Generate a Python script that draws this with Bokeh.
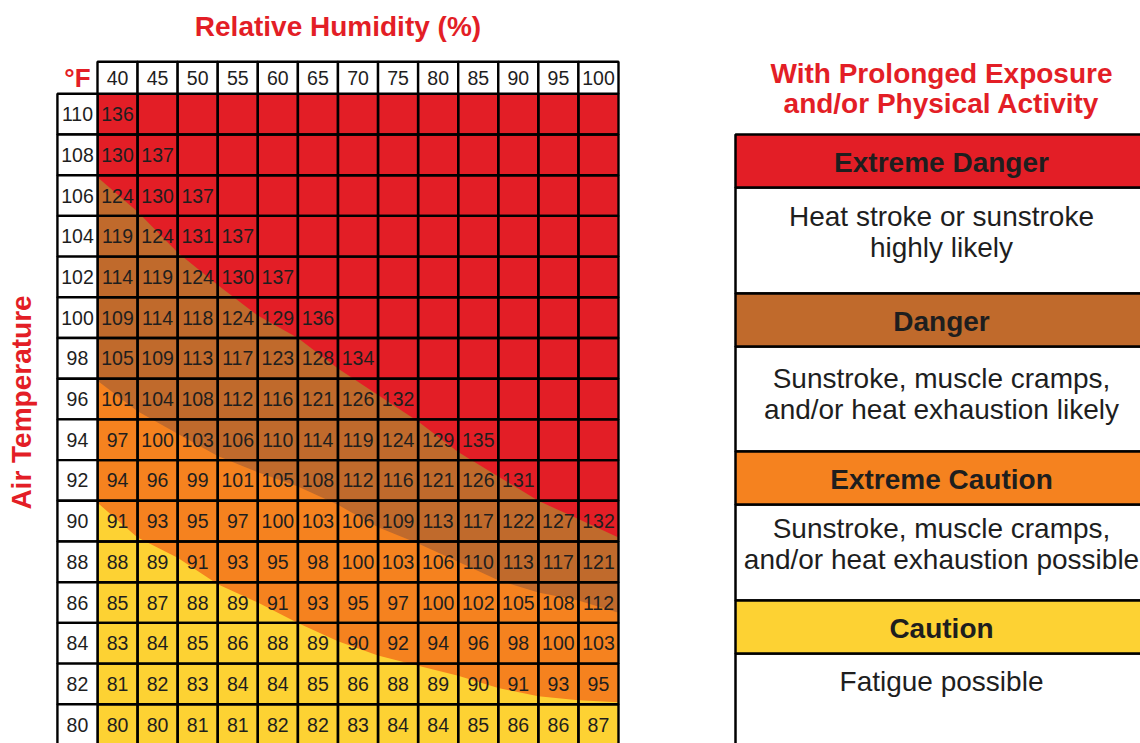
import math
from bokeh.plotting import figure
from bokeh.layouts import row
from bokeh.models import Range1d
from bokeh.core.properties import value
from bokeh.embed import file_html
from bokeh.resources import INLINE

# ---------------- data ----------------
humidity = [40, 45, 50, 55, 60, 65, 70, 75, 80, 85, 90, 95, 100]
air_temp = [110, 108, 106, 104, 102, 100, 98, 96, 94, 92, 90, 88, 86, 84, 82, 80]

hi_110 = [136]
hi_108 = [130, 137]
hi_106 = [124, 130, 137]
hi_104 = [119, 124, 131, 137]
hi_102 = [114, 119, 124, 130, 137]
hi_100 = [109, 114, 118, 124, 129, 136]
hi_98 = [105, 109, 113, 117, 123, 128, 134]
hi_96 = [101, 104, 108, 112, 116, 121, 126, 132]
hi_94 = [97, 100, 103, 106, 110, 114, 119, 124, 129, 135]
hi_92 = [94, 96, 99, 101, 105, 108, 112, 116, 121, 126, 131]
hi_90 = [91, 93, 95, 97, 100, 103, 106, 109, 113, 117, 122, 127, 132]
hi_88 = [88, 89, 91, 93, 95, 98, 100, 103, 106, 110, 113, 117, 121]
hi_86 = [85, 87, 88, 89, 91, 93, 95, 97, 100, 102, 105, 108, 112]
hi_84 = [83, 84, 85, 86, 88, 89, 90, 92, 94, 96, 98, 100, 103]
hi_82 = [81, 82, 83, 84, 84, 85, 86, 88, 89, 90, 91, 93, 95]
hi_80 = [80, 80, 81, 81, 82, 82, 83, 84, 84, 85, 86, 86, 87]
heat_index_rows = [hi_110, hi_108, hi_106, hi_104, hi_102, hi_100, hi_98, hi_96,
                   hi_94, hi_92, hi_90, hi_88, hi_86, hi_84, hi_82, hi_80]

# risk-band boundaries (air temperature at each humidity cell edge)
boundary_humidity = [37.5, 42.5, 47.5, 52.5, 57.5, 62.5, 67.5, 72.5, 77.5, 82.5, 87.5, 92.5, 97.5, 102.5]
extreme_danger_edge = [106.9, 105.2, 103.2, 101.6, 100.1, 99.0, 97.5, 96.2, 94.9, 93.4, 92.2, 91.0, 90.1, 89.2]
danger_edge = [96.9, 95.4, 94.3, 93.2, 92.4, 91.7, 90.8, 89.7, 88.9, 88.0, 87.1, 86.5, 86.1, 85.5]
caution_edge = [90.9, 89.2, 88.2, 86.9, 86.0, 85.0, 84.1, 83.4, 82.9, 82.4, 81.8, 81.4, 81.2, 81.1]

risk_levels = ["Extreme Danger", "Danger", "Extreme Caution", "Caution"]
risk_text = [["Heat stroke or sunstroke", "highly likely"],
             ["Sunstroke, muscle cramps,", "and/or heat exhaustion likely"],
             ["Sunstroke, muscle cramps,", "and/or heat exhaustion possible"],
             ["Fatigue possible"]]

# ---------------- style ----------------
RED = "#E31E26"
BROWN = "#C06A2C"
ORANGE = "#F5821F"
YELLOW = "#FDD233"
risk_colors = [RED, BROWN, ORANGE, YELLOW]
INK = "#1E1E1E"
FONT = value("Liberation Sans")
NUM_SIZE = "19.5px"

# ---------------- layout (screen pixels) ----------------
PAGE = 0
LEFT_W, RIGHT_W, H = 668, 472, 743
grid_x0_px, grid_x1_px = 97.0, 618.0
grid_y0_px = 93.3
row_px = 40.7
header_px = 32.0
hum_step, temp_step = 5, 2
ppx = (grid_x1_px - grid_x0_px) / len(humidity) / hum_step
ppy = row_px / temp_step
hum_edge0 = humidity[0] - hum_step / 2
temp_edge0 = air_temp[0] + temp_step / 2


def dx(sx):
    return hum_edge0 + (sx - grid_x0_px) / ppx


def dy(sy):
    return temp_edge0 - (sy - grid_y0_px) / ppy


p = figure(width=LEFT_W, height=H,
           x_range=Range1d(dx(PAGE), dx(PAGE + LEFT_W)),
           y_range=Range1d(dy(PAGE + H), dy(PAGE)),
           output_backend="svg", toolbar_location=None, min_border=0,
           x_axis_location=None, y_axis_location=None)
p.grid.visible = False
p.outline_line_color = None
p.background_fill_color = "white"
p.border_fill_color = "white"

g_left = hum_edge0
g_right = humidity[-1] + hum_step / 2
g_top = temp_edge0
g_bot = air_temp[-1] - temp_step / 2

# background bands
p.quad(left=g_left, right=g_right, top=g_top, bottom=g_bot, fill_color=RED, line_color=None)
for edge, color in [(extreme_danger_edge, BROWN), (danger_edge, ORANGE), (caution_edge, YELLOW)]:
    xs = boundary_humidity + [g_right, g_left]
    ys = edge + [g_bot, g_bot]
    p.patch(xs, ys, fill_color=color, line_color=None)

# cell grid
cx, cy, vx, vy, vt = [], [], [], [], []
for t, vals in zip(air_temp, heat_index_rows):
    for i, h in enumerate(humidity):
        cx.append(h)
        cy.append(t)
        if i < len(vals):
            vx.append(h)
            vy.append(t)
            vt.append(str(vals[i]))
p.rect(x=cx, y=cy, width=hum_step, height=temp_step, fill_color=None,
       line_color="black", line_width=2.4)

# row labels (air temperature)
lab_x = hum_edge0 - hum_step / 2
p.rect(x=[lab_x] * len(air_temp), y=air_temp, width=hum_step, height=temp_step,
       fill_color="white", line_color="black", line_width=2.4)
p.text(x=[lab_x] * len(air_temp), y=air_temp, text=[str(t) for t in air_temp],
       text_align="center", text_baseline="middle", text_font=FONT,
       text_font_size=NUM_SIZE, text_color=INK)

# header row (humidity)
hh = header_px / ppy
p.rect(x=humidity, y=[g_top + hh / 2] * len(humidity), width=hum_step, height=hh,
       fill_color="white", line_color="black", line_width=2.4)
p.text(x=humidity, y=[g_top + hh / 2] * len(humidity), text=[str(h) for h in humidity],
       text_align="center", text_baseline="middle", text_font=FONT,
       text_font_size=NUM_SIZE, text_color=INK)

# values
p.text(x=vx, y=vy, text=vt, text_align="center", text_baseline="middle",
       text_font=FONT, text_font_size=NUM_SIZE, text_color=INK)

# °F
p.text(x=[lab_x], y=[g_top + hh / 2], text=["°F"], text_align="center",
       text_baseline="middle", text_font=FONT, text_font_size="26px",
       text_font_style="bold", text_color=RED)

# titles
p.text(x=[(lab_x - hum_step / 2 + g_right) / 2], y=[dy(26)], text=["Relative Humidity (%)"],
       text_align="center", text_baseline="middle", text_font=FONT,
       text_font_size="28px", text_font_style="bold", text_color=RED)
p.text(x=[dx(21)], y=[dy(402)], text=["Air Temperature"], angle=math.pi / 2,
       text_align="center", text_baseline="middle", text_font=FONT,
       text_font_size="28px", text_font_style="bold", text_color=RED)

# ---------------- right panel ----------------
q = figure(width=RIGHT_W, height=H,
           x_range=Range1d(PAGE + LEFT_W, PAGE + LEFT_W + RIGHT_W),
           y_range=Range1d(PAGE + H, PAGE),
           output_backend="svg", toolbar_location=None, min_border=0,
           x_axis_location=None, y_axis_location=None)
q.grid.visible = False
q.outline_line_color = None
q.background_fill_color = "white"
q.border_fill_color = "white"

box_l, box_r, cxr = 735, 1150, 941
head_top = [134, 293, 451, 600]
head_h = 53
body_bot = [293, 451, 600, 770]
first_line_pad = [29, 32, 24, 28]
line_gap = 30.5

q.text(x=[cxr, cxr], y=[73, 103], text=["With Prolonged Exposure", "and/or Physical Activity"],
       text_align="center", text_baseline="middle", text_font=FONT,
       text_font_size="28px", text_font_style="bold", text_color=RED)

for i, name in enumerate(risk_levels):
    ht = head_top[i]
    hb = ht + head_h
    q.quad(left=box_l, right=box_r, top=hb, bottom=body_bot[i], fill_color="white",
           line_color="black", line_width=2.5)
    q.quad(left=box_l, right=box_r, top=ht, bottom=hb, fill_color=risk_colors[i],
           line_color="black", line_width=2.5)
    q.text(x=[cxr], y=[ht + head_h / 2 + 1], text=[name], text_align="center",
           text_baseline="middle", text_font=FONT, text_font_size="28px",
           text_font_style="bold", text_color=INK)
    lines = risk_text[i]
    q.text(x=[cxr] * len(lines), y=[hb + first_line_pad[i] + k * line_gap for k in range(len(lines))],
           text=lines, text_align="center", text_baseline="middle", text_font=FONT,
           text_font_size="28px", text_color=INK)

layout = row(p, q)
open("out.html", "w").write(file_html(layout, INLINE))
